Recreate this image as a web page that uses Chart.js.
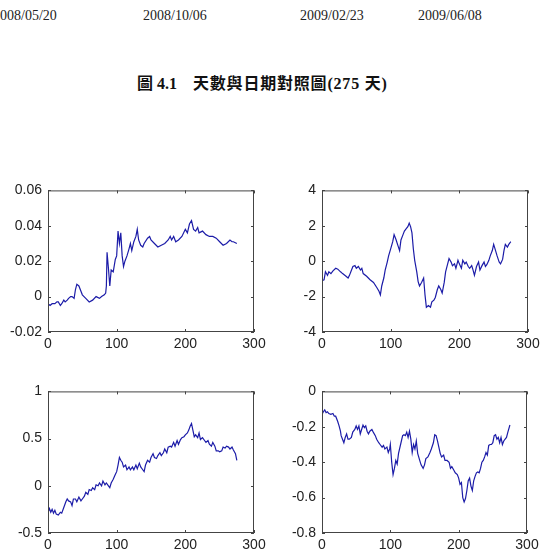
<!DOCTYPE html>
<html>
<head>
<meta charset="utf-8">
<script src="https://cdn.jsdelivr.net/npm/chart.js@4.4.1/dist/chart.umd.min.js"></script>
<style>
  body { margin: 0; background: #fff; width: 555px; height: 558px; position: relative; overflow: hidden; }
  .date { position: absolute; top: 8px; font: 14px "Liberation Serif", serif; color: #222; }
  .title { position: absolute; top: 70px; font: bold 16px "Liberation Serif", "Noto Sans CJK TC", serif; color: #111; white-space: nowrap; }
  canvas { position: absolute; }
</style>
</head>
<body>
<div class="date" style="left:-7px">2008/05/20</div>
<div class="date" style="left:143px">2008/10/06</div>
<div class="date" style="left:300px">2009/02/23</div>
<div class="date" style="left:418px">2009/06/08</div>
<div class="title" style="left:137px">圖 4.1</div>
<div class="title" style="left:193px; letter-spacing:0.8px">天數與日期對照圖(275 天)</div>

<canvas id="c1" width="270" height="178" style="left:0px; top:176px"></canvas>
<canvas id="c2" width="270" height="178" style="left:274px; top:176px"></canvas>
<canvas id="c3" width="270" height="178" style="left:0px; top:377px"></canvas>
<canvas id="c4" width="269" height="178" style="left:274px; top:377px"></canvas>

<script>
// x tick labels shared by all four panels
const xTicks = [0, 100, 200, 300];

// top-left panel
const days1 = [0,3,6,10,13,15,18,20,23,25,28,30,33,35,38,40,42,45,48,50,55,60,65,70,75,78,82,84,85,86,88,90,92,95,98,100,102,104,106,108,110,112,115,118,120,122,125,128,130,132,135,138,140,145,148,150,155,160,165,170,175,178,180,183,186,190,195,200,203,206,209,212,215,218,220,225,230,235,240,245,250,255,260,265,268,270,275];
const vals1 = [-0.004,-0.005,-0.004,-0.004,-0.003,-0.003,-0.005,-0.004,-0.002,-0.003,-0.002,-0.001,0,0,-0.001,0.004,0.007,0.006,0.003,0.001,-0.001,-0.003,-0.002,0,-0.001,0,0.001,0.002,0.006,0.025,0.016,0.006,0.015,0.014,0.021,0.023,0.037,0.030,0.036,0.023,0.017,0.020,0.023,0.027,0.030,0.026,0.031,0.034,0.038,0.032,0.029,0.028,0.030,0.033,0.034,0.032,0.030,0.028,0.029,0.030,0.032,0.034,0.032,0.034,0.031,0.032,0.034,0.038,0.036,0.041,0.043,0.038,0.037,0.039,0.036,0.037,0.035,0.034,0.034,0.033,0.031,0.029,0.030,0.032,0.031,0.031,0.030];
const yTicks1 = [-0.02, 0, 0.02, 0.04, 0.06];

// top-right panel
const days2 = [0,3,5,8,10,13,16,20,23,27,30,35,38,40,43,45,48,50,53,56,58,60,65,70,75,80,83,85,87,90,92,95,97,100,103,105,108,110,113,115,118,120,123,125,127,129,131,133,135,138,140,142,145,148,150,152,155,158,160,163,165,168,170,173,175,178,180,183,185,188,190,193,195,198,200,203,205,208,210,213,215,218,220,222,225,228,230,233,236,238,240,243,245,248,250,252,255,258,260,263,265,267,270,272,275];
const vals2 = [-1.1,-1.05,-0.6,-0.8,-0.6,-0.7,-0.55,-0.4,-0.45,-0.6,-0.7,-0.85,-0.95,-0.8,-0.5,-0.3,-0.25,-0.4,-0.3,-0.5,-0.4,-0.7,-0.85,-1.05,-1.2,-1.5,-1.7,-1.9,-1.4,-0.95,-0.5,-0.05,0.3,0.7,1.1,1.5,1.2,0.95,0.6,1.2,1.5,1.7,1.85,1.95,2.15,1.95,1.6,0.7,0.05,-0.6,-1.15,-1.4,-1.2,-0.95,-1.9,-2.6,-2.5,-2.6,-2.3,-2.2,-2.05,-1.6,-1.4,-1.6,-1.8,-1.2,-0.6,-0.15,0.15,-0.05,-0.25,-0.15,-0.4,0.05,-0.15,-0.4,0.05,-0.15,-0.05,-0.3,-0.4,-0.25,-0.5,-0.8,-0.3,-0.05,-0.5,-0.25,-0.05,-0.3,-0.2,0.05,0.3,0.6,0.95,0.7,0.3,-0.05,-0.15,0.1,0.6,0.95,0.8,0.95,1.1];
const yTicks2 = [-4, -2, 0, 2, 4];

// bottom-left panel
const days3 = [0,2,4,6,8,10,12,15,18,20,23,26,28,30,33,35,37,40,42,45,48,50,53,55,58,60,63,65,68,70,73,75,78,80,83,85,88,90,92,95,98,100,102,104,106,108,110,113,115,118,120,123,125,128,130,133,135,138,140,142,145,148,150,153,155,158,160,163,165,168,170,173,175,178,180,183,185,188,190,193,195,198,200,203,205,207,209,211,213,215,218,220,222,225,228,230,233,235,238,240,243,245,248,250,253,255,258,260,263,265,268,270,273,275];
const vals3 = [-0.28,-0.24,-0.28,-0.25,-0.29,-0.26,-0.30,-0.31,-0.28,-0.29,-0.23,-0.17,-0.14,-0.16,-0.17,-0.21,-0.14,-0.14,-0.17,-0.12,-0.16,-0.14,-0.11,-0.07,-0.09,-0.04,-0.05,-0.02,-0.04,0.01,0,0.03,0,0.05,0.01,0.03,0,-0.02,0.03,0.07,0.12,0.15,0.22,0.30,0.27,0.25,0.20,0.22,0.17,0.20,0.17,0.20,0.17,0.22,0.18,0.24,0.20,0.17,0.15,0.22,0.27,0.25,0.30,0.34,0.30,0.29,0.32,0.35,0.32,0.35,0.39,0.35,0.41,0.42,0.41,0.46,0.42,0.48,0.44,0.49,0.51,0.52,0.54,0.56,0.59,0.63,0.66,0.59,0.52,0.54,0.51,0.56,0.49,0.51,0.48,0.46,0.48,0.44,0.42,0.46,0.42,0.37,0.37,0.36,0.37,0.41,0.40,0.42,0.41,0.39,0.41,0.38,0.34,0.27];
const yTicks3 = [-0.5, 0, 0.5, 1];

// bottom-right panel
const days4 = [0,2,4,6,8,10,13,16,18,20,23,25,27,28,30,32,34,36,38,40,43,45,48,50,52,54,56,58,60,62,64,66,68,70,73,75,78,80,83,85,88,90,92,95,97,99,100,102,104,106,108,110,112,115,118,120,122,124,126,128,130,132,134,136,138,140,143,145,148,150,152,155,158,160,163,165,167,169,171,173,175,178,180,183,186,188,190,193,195,198,200,202,204,206,208,210,212,214,216,218,220,222,224,226,228,230,232,234,236,238,240,242,244,246,248,250,252,254,256,258,260,262,264,266,268,270,272,275];
const vals4 = [-0.13,-0.115,-0.105,-0.12,-0.115,-0.125,-0.13,-0.125,-0.14,-0.14,-0.17,-0.195,-0.225,-0.25,-0.27,-0.29,-0.26,-0.24,-0.27,-0.27,-0.26,-0.23,-0.215,-0.195,-0.215,-0.195,-0.24,-0.215,-0.19,-0.205,-0.195,-0.225,-0.24,-0.225,-0.215,-0.23,-0.25,-0.27,-0.29,-0.30,-0.315,-0.305,-0.325,-0.315,-0.345,-0.325,-0.30,-0.40,-0.47,-0.435,-0.39,-0.41,-0.35,-0.30,-0.25,-0.245,-0.25,-0.23,-0.26,-0.225,-0.27,-0.345,-0.30,-0.325,-0.28,-0.35,-0.39,-0.415,-0.435,-0.415,-0.38,-0.37,-0.345,-0.325,-0.29,-0.245,-0.25,-0.28,-0.315,-0.35,-0.37,-0.36,-0.39,-0.39,-0.40,-0.435,-0.425,-0.445,-0.46,-0.47,-0.49,-0.525,-0.515,-0.60,-0.625,-0.605,-0.56,-0.505,-0.49,-0.535,-0.56,-0.505,-0.48,-0.46,-0.455,-0.46,-0.435,-0.40,-0.39,-0.37,-0.345,-0.36,-0.305,-0.30,-0.30,-0.29,-0.25,-0.245,-0.27,-0.26,-0.29,-0.26,-0.30,-0.28,-0.27,-0.26,-0.23,-0.19];
const yTicks4 = [-0.8, -0.6, -0.4, -0.2, 0];

// matlab style box with inward tick marks
const boxPlugin = {
    id: 'box',
    afterDraw(chart) {
        const ctx = chart.ctx;
        const a = chart.chartArea;
        const sx = chart.scales.x, sy = chart.scales.y;
        ctx.save();
        ctx.strokeStyle = '#444';
        ctx.lineWidth = 1;
        ctx.strokeRect(a.left + 0.5, a.top + 0.5, a.right - a.left - 1, a.bottom - a.top - 1);
        ctx.beginPath();
        sx.ticks.forEach(t => {
            const px = Math.round(sx.getPixelForValue(t.value)) + 0.5;
            ctx.moveTo(px, a.bottom); ctx.lineTo(px, a.bottom - 3);
            ctx.moveTo(px, a.top); ctx.lineTo(px, a.top + 3);
        });
        sy.ticks.forEach(t => {
            const py = Math.round(sy.getPixelForValue(t.value)) + 0.5;
            ctx.moveTo(a.left, py); ctx.lineTo(a.left + 3, py);
            ctx.moveTo(a.right, py); ctx.lineTo(a.right - 3, py);
        });
        ctx.stroke();
        ctx.restore();
    }
};

// plain matlab-like number labels: 1 not 1.0
const tickLabel = v => String(Math.round(v * 10000) / 10000);

function makeChart(id, days, vals, yTicks) {
    const points = days.map((d, i) => ({ x: d, y: vals[i] }));
    const ctx = document.getElementById(id).getContext('2d');
    new Chart(ctx, {
        type: 'line',
        data: {
            datasets: [{
                data: points,
                borderColor: '#1c1ca8',
                borderWidth: 1.2,
                pointRadius: 0,
                tension: 0,
                fill: false
            }]
        },
        options: {
            responsive: false,
            animation: false,
            layout: { padding: { top: 10, right: 16, left: 0, bottom: 0 } },
            plugins: { legend: { display: false }, tooltip: { enabled: false } },
            scales: {
                x: {
                    type: 'linear',
                    min: xTicks[0],
                    max: xTicks[xTicks.length - 1],
                    afterBuildTicks: s => { s.ticks = xTicks.map(v => ({ value: v })); },
                    afterFit: s => { s.height = 22; },
                    grid: { display: false, drawTicks: false },
                    border: { display: false },
                    ticks: { padding: 4, color: '#222', font: { family: 'Liberation Sans', size: 14 }, maxRotation: 0, callback: tickLabel }
                },
                y: {
                    min: yTicks[0],
                    max: yTicks[yTicks.length - 1],
                    afterBuildTicks: s => { s.ticks = yTicks.map(v => ({ value: v })); },
                    afterFit: s => { s.width = 48; },
                    grid: { display: false, drawTicks: false },
                    border: { display: false },
                    ticks: { padding: 6, color: '#222', font: { family: 'Liberation Sans', size: 14 }, callback: tickLabel }
                }
            }
        },
        plugins: [boxPlugin]
    });
}

makeChart('c1', days1, vals1, yTicks1);
makeChart('c2', days2, vals2, yTicks2);
makeChart('c3', days3, vals3, yTicks3);
makeChart('c4', days4, vals4, yTicks4);
</script>
</body>
</html>
